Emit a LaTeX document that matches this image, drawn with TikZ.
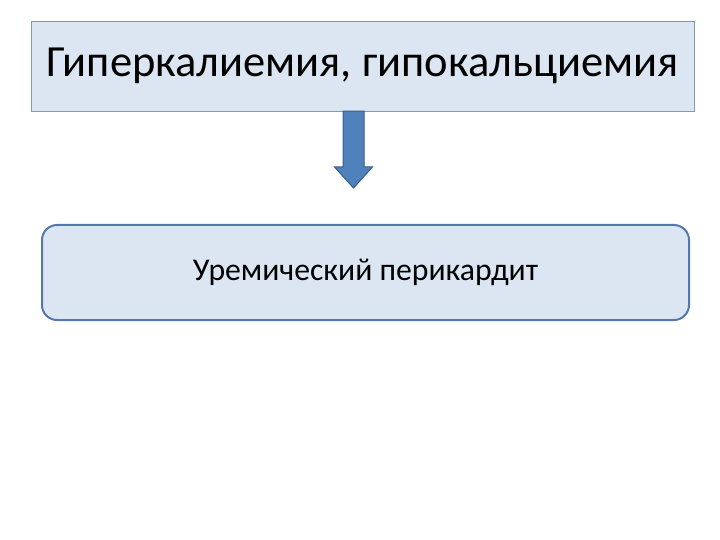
\documentclass[tikz,border=0pt]{standalone}
\usepackage{fontspec}
\setmainfont{Carlito}
\usetikzlibrary{calc}
\definecolor{boxfill}{HTML}{DCE6F2}
\definecolor{boxline}{HTML}{7F9AB8}
\definecolor{roundline}{HTML}{5677AA}
\definecolor{arrowfill}{HTML}{4F81BD}
\definecolor{arrowline}{HTML}{385D8A}
\tikzset{
  causebox/.style={draw=boxline,fill=boxfill,inner sep=0pt,minimum width=663pt,minimum height=90pt,font=\fontsize{44.5}{50}\selectfont},
  effectbox/.style={draw=roundline,line width=2pt,rounded corners=15pt,fill=boxfill,inner sep=0pt,minimum width=647pt,minimum height=95pt,font=\fontsize{31.7}{36}\selectfont}
}
\begin{document}
\begin{tikzpicture}[x=1pt,y=-1pt]
\useasboundingbox (0,0) rectangle (720,540);
\node[causebox] (cause) at (362.5,66) {Гиперкалиемия, гипокальциемия};
\node[effectbox] (effect) at (365.5,272.5) {Уремический перикардит};
\coordinate (tip) at (353.5,188);

\draw[arrowline,fill=arrowfill,line width=1pt] ($(tip |- cause.south)+(-10.5,0)$) -- ++(21,0) -- ($(tip)+(10.5,-21)$) -- ++(8.5,0) -- (tip) -- ($(tip)+(-19,-21)$) -- ++(8.5,0) -- cycle;
\end{tikzpicture}
\end{document}
